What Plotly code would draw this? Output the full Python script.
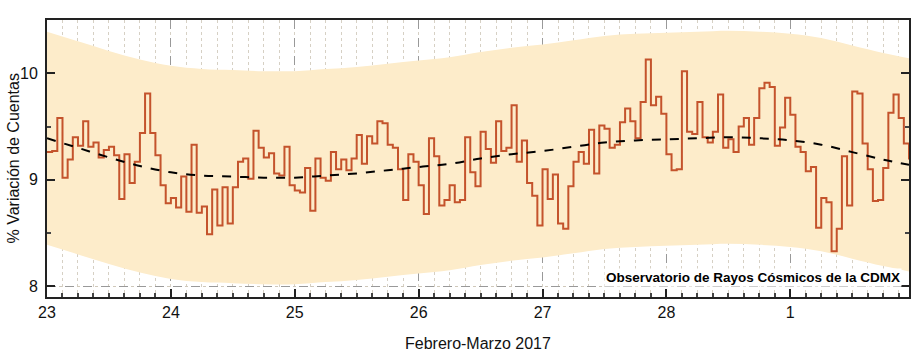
import plotly.graph_objects as go

# ---- data ----
day_ticks = [23, 24, 25, 26, 27, 28, 29]
day_labels = ["23", "24", "25", "26", "27", "28", "1"]

hourly_pct = [
    9.26, 9.27, 9.58, 9.02, 9.19, 9.40, 9.32, 9.55, 9.31, 9.35, 9.21, 9.28,
    9.31, 9.23, 8.82, 9.24, 8.97, 9.17, 9.44, 9.81, 9.44, 9.23, 8.95, 8.78,
    8.83, 8.74, 9.03, 8.70, 9.33, 8.69, 8.75, 8.49, 8.91, 8.57, 8.93, 8.59,
    8.93, 9.17, 9.20, 9.01, 9.46, 9.30, 9.21, 9.25, 9.06, 9.04, 9.31, 8.95,
    8.90, 8.88, 9.11, 8.71, 9.20, 9.02, 8.99, 9.26, 9.10, 9.19, 9.09, 9.20,
    9.42, 9.15, 9.41, 9.34, 9.55, 9.53, 9.33, 9.30, 9.10, 8.81, 9.24, 9.17,
    8.95, 8.68, 9.39, 9.22, 8.76, 8.81, 8.95, 8.79, 8.81, 9.40, 9.07, 8.94,
    9.45, 9.29, 9.16, 9.55, 9.27, 9.30, 9.70, 9.17, 9.37, 8.97, 8.85, 8.57,
    9.10, 8.82, 9.05, 8.59, 8.54, 8.94, 9.17, 9.26, 9.15, 9.47, 9.06, 9.51,
    9.48, 9.30, 9.33, 9.54, 9.67, 9.55, 9.39, 9.73, 10.13, 9.70, 9.78, 9.62,
    9.24, 9.09, 9.10, 10.02, 9.45, 9.43, 9.73, 9.40, 9.35, 9.45, 9.80, 9.30,
    9.38, 9.26, 9.50, 9.58, 9.33, 9.58, 9.86, 9.91, 9.87, 9.32, 9.49, 9.77,
    9.61, 9.31, 9.26, 9.08, 9.12, 8.55, 8.83, 8.79, 8.33, 8.54, 9.22, 8.76,
    9.83, 9.81, 9.34, 9.10, 8.80, 8.81, 9.11, 9.63, 9.80, 9.58, 9.34, 9.19,
]

fit_hours = [0, 6, 12, 18, 24, 30, 36, 42, 48, 54, 60, 66, 72, 78, 84, 90,
             96, 102, 108, 114, 120, 126, 132, 138, 144, 150, 156, 162, 167]
fit_pct = [9.39, 9.30, 9.21, 9.13, 9.07, 9.04, 9.03, 9.02, 9.02, 9.04, 9.06,
           9.09, 9.12, 9.15, 9.20, 9.24, 9.27, 9.31, 9.35, 9.37, 9.38, 9.39,
           9.40, 9.39, 9.37, 9.33, 9.26, 9.19, 9.14]
band_upper = [10.39, 10.30, 10.21, 10.13, 10.07, 10.04, 10.03, 10.02, 10.02,
              10.04, 10.06, 10.09, 10.12, 10.15, 10.20, 10.24, 10.27, 10.31,
              10.35, 10.37, 10.38, 10.39, 10.40, 10.39, 10.37, 10.33, 10.26,
              10.19, 10.14]
band_lower = [8.39, 8.30, 8.21, 8.13, 8.07, 8.04, 8.03, 8.02, 8.02, 8.04, 8.06,
              8.09, 8.12, 8.15, 8.20, 8.24, 8.27, 8.31, 8.35, 8.37, 8.38, 8.39,
              8.40, 8.39, 8.37, 8.33, 8.26, 8.19, 8.14]

start_day = 23
x_hourly = [start_day + h / 24 for h in range(len(hourly_pct))]
x_fit = [start_day + h / 24 for h in fit_hours]

FONT = "Liberation Sans, Arial, sans-serif"

fig = go.Figure()
fig.add_trace(go.Scatter(x=x_fit, y=band_lower, mode="lines",
                         line=dict(width=0, shape="spline"),
                         hoverinfo="skip", showlegend=False))
fig.add_trace(go.Scatter(x=x_fit, y=band_upper, mode="lines",
                         line=dict(width=0, shape="spline"),
                         fill="tonexty", fillcolor="rgb(253,236,202)",
                         hoverinfo="skip", showlegend=False))
fig.add_trace(go.Scatter(x=x_hourly, y=hourly_pct, mode="lines",
                         line=dict(color="#c4532c", width=2, shape="hv"),
                         showlegend=False))
fig.add_trace(go.Scatter(x=x_fit, y=fit_pct, mode="lines",
                         line=dict(color="black", width=2, dash="dash",
                                   shape="spline"),
                         showlegend=False))

PLOT_W = 862
PLOT_H = 277

fig.add_annotation(text="<b>Observatorio de Rayos Cósmicos de la CDMX</b>",
                   xref="paper", yref="y", x=0.992, y=8.08,
                   xanchor="right", yanchor="middle", showarrow=False,
                   bgcolor="white", font=dict(family=FONT, size=13.5, color="black"))
# axis titles
fig.add_annotation(text="% Variación de Cuentas", textangle=-90,
                   xref="paper", yref="paper", x=-34 / PLOT_W, y=0.5,
                   xanchor="center", yanchor="middle", showarrow=False,
                   font=dict(family=FONT, size=16, color="#111"))
fig.add_annotation(text="Febrero-Marzo 2017",
                   xref="paper", yref="paper", x=0.5, y=-46 / PLOT_H,
                   xanchor="center", yanchor="middle", showarrow=False,
                   font=dict(family=FONT, size=16, color="#111"))

fig.update_layout(
    width=920, height=358,
    margin=dict(l=47, r=11, t=20, b=61),
    paper_bgcolor="white", plot_bgcolor="white",
    font=dict(family=FONT, size=16, color="#111"),
    xaxis=dict(
        range=[start_day, start_day + (len(hourly_pct) - 1) / 24],
        tickmode="array", tickvals=day_ticks, ticktext=day_labels,
        ticks="inside", ticklen=8, tickwidth=1.5, tickcolor="#222",
        showline=True, linecolor="#222", linewidth=2, mirror=True,
        showgrid=True, gridcolor="#999", griddash="dash", gridwidth=1,
        zeroline=False, automargin=False,
        tickfont=dict(size=16, color="#111"),
        minor=dict(dtick=0.125, tick0=23, ticks="inside", ticklen=4,
                   tickcolor="#444", showgrid=True, gridcolor="#d6d0c4",
                   griddash="dot", gridwidth=1),
    ),
    yaxis=dict(
        range=[7.9, 10.5],
        tickvals=[8, 9, 10], ticktext=["8", "9", "10"],
        ticks="inside", ticklen=8, tickwidth=1.5, tickcolor="#222",
        showline=True, linecolor="#222", linewidth=2, mirror="ticks",
        showgrid=True, gridcolor="#999", griddash="dash", gridwidth=1,
        zeroline=False, automargin=False, ticklabelstandoff=4,
        tickfont=dict(size=16, color="#111"),
        minor=dict(dtick=0.5, tick0=8, ticks="inside", ticklen=4,
                   tickcolor="#444", showgrid=True, gridcolor="#cfc8ba",
                   griddash="dot", gridwidth=1),
    ),
)

fig.write_html("out.html",
               config={"displayModeBar": False},
               post_script="document.body.style.margin='0';"
                           "document.body.style.overflow='hidden';")
